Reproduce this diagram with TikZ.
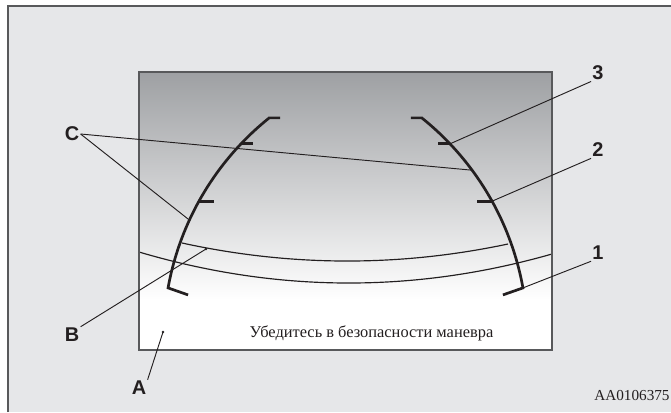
\documentclass[tikz,border=0pt]{standalone}
\usepackage{fontspec}
\setmainfont{Liberation Serif}
\newfontfamily\labelfont{Liberation Sans}
\usetikzlibrary{positioning, calc}
\definecolor{PanelGray}{HTML}{E6E7E9}
\definecolor{FrameGray}{HTML}{58595B}
\definecolor{ScreenTop}{HTML}{9EA0A3}
\definecolor{InkBlack}{HTML}{231F20}

\tikzset{
  callout/.style={font=\labelfont\bfseries\fontsize{17}{17}\selectfont, inner sep=1pt, color=InkBlack},
  leader/.style={line width=0.8pt, color=InkBlack},
  guide/.style={line width=2.3pt, color=InkBlack},
  band/.style={line width=1pt, color=InkBlack},
}

\begin{document}
\begin{tikzpicture}[x=0.03cm, y=-0.03cm]
    \useasboundingbox (0,0) rectangle (671,412);
    % panel and frame
    \fill[PanelGray] (8,6) rectangle (671,412);
    \draw[FrameGray, line width=1.7pt] (8,412) -- (8,6) -- (671,6);

    % camera screen
    \shade[top color=ScreenTop, bottom color=white] (139,72) rectangle (552,300);
    \fill[white] (139,300) rectangle (552,350);

    % horizon bands
    \draw[band] (182,243) .. controls (290.7,266.7) and (399.3,267) .. (508,244);
    \draw[band] (139,252) .. controls (276.7,292.7) and (414.3,293.3) .. (552,254);

    \draw[FrameGray, line width=1.2pt] (139,72) rectangle (552,350);

    % guide lines
    \draw[guide] ({445.4+281.8*cos(231.3)+11},{337.8+281.8*sin(231.3)})
        -- plot[domain=231.3:190.2, samples=40] ({445.4+281.8*cos(\x)},{337.8+281.8*sin(\x)})
        -- ++(20,7);
    \draw[guide] ({245.6+281.8*cos(-51.3)-11},{337.8+281.8*sin(-51.3)})
        -- plot[domain=-51.3:-10.2, samples=40] ({245.6+281.8*cos(\x)},{337.8+281.8*sin(\x)})
        -- ++(-20,7);
    \foreach \a/\l in {223.5/12, 209/15}
        \draw[guide] ({445.4+281.8*cos(\a)},{337.8+281.8*sin(\a)}) -- ++(\l,0);
    \foreach \a/\l in {-43.5/12, -29/15}
        \draw[guide] ({245.6+281.8*cos(\a)},{337.8+281.8*sin(\a)}) -- ++(-\l,0);

    % points picked out by the callouts
    \coordinate (cLeft) at ({445.4+281.8*cos(204.7)},{337.8+281.8*sin(204.7)});
    \coordinate (cRight) at ({245.6+281.8*cos(-36.5)},{337.8+281.8*sin(-36.5)});
    \coordinate (tick3) at ({245.6+281.8*cos(-43.5)},{337.8+281.8*sin(-43.5)});
    \coordinate (tick2) at ({245.6+281.8*cos(-29)},{337.8+281.8*sin(-29)});
    \coordinate (tick1) at ({245.6+281.8*cos(-10.2)},{337.8+281.8*sin(-10.2)});
    \coordinate (bandB) at (206,249);
    \coordinate (areaA) at (163,332);

    % message
    \node[anchor=base, font=\fontsize{14}{14}\selectfont, color=InkBlack] (msg) at (371.5,337) {Убедитесь в безопасности маневра};
    \node[anchor=base east, inner sep=1pt, font=\fontsize{13}{13}\selectfont, color=InkBlack] (code) at (671,400) {AA0106375};

    % callouts
    \node[callout] (lC) at (72,134) {C};
    \node[callout] (l3) at (598,73) {3};
    \node[callout] (l2) at (598,150) {2};
    \node[callout] (l1) at (598,253) {1};
    \node[callout] (lB) at (72,335) {B};
    \node[callout] (lA) at (139,388) {A};

    \draw[leader] (lC.east) -- (cLeft);
    \draw[leader] (lC.east) -- (cRight);
    \draw[leader] (l3.south west) -- (tick3);
    \draw[leader] (l2.south west) -- (tick2);
    \draw[leader] (l1.south west) -- (tick1);
    \draw[leader] (lB.north east) -- (bandB);
    \draw[leader] (lA.north east) -- (areaA);
    \foreach \p in {cLeft, cRight, bandB, areaA}
        \fill[InkBlack] (\p) circle (1.1pt);
\end{tikzpicture}
\end{document}
